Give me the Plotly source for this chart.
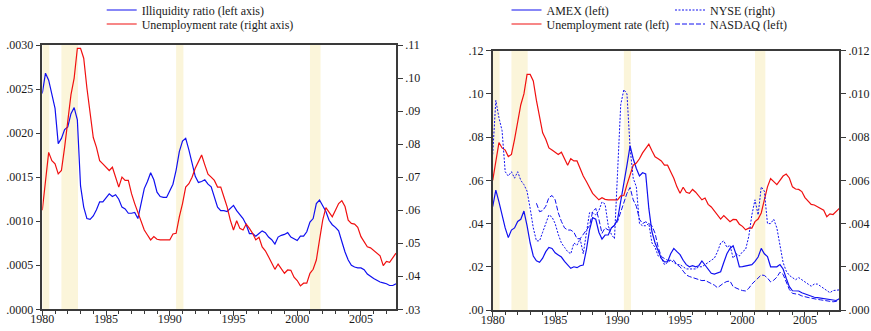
import plotly.graph_objects as go

# ---------------- data (quarterly, 1980Q1 .. 2007Q4) ----------------
START_YEAR = 1980

illiquidity = [
    .00245, .00268, .00260, .00244,  # 1980
    .00228, .00188, .00194, .00204,  # 1981
    .00207, .00222, .00229, .00215,  # 1982
    .00140, .00116, .00103, .00102,  # 1983
    .00106, .00113, .00122, .00122,  # 1984
    .00126, .00131, .00128, .00130,  # 1985
    .00125, .00116, .00114, .00109,  # 1986
    .00109, .00110, .00103, .00119,  # 1987
    .00137, .00145, .00155, .00147,  # 1988
    .00133, .00128, .00127, .00127,  # 1989
    .00135, .00142, .00158, .00179,  # 1990
    .00191, .00194, .00181, .00166,  # 1991
    .00151, .00144, .00145, .00147,  # 1992
    .00142, .00139, .00128, .00116,  # 1993
    .00112, .00112, .00111, .00115,  # 1994
    .00118, .00112, .00107, .00103,  # 1995
    .00096, .00086, .00086, .00083,  # 1996
    .00086, .00089, .00087, .00082,  # 1997
    .00079, .00074, .00082, .00084,  # 1998
    .00085, .00087, .00082, .00080,  # 1999
    .00078, .00083, .00083, .00088,  # 2000
    .00099, .00103, .00120, .00124,  # 2001
    .00118, .00111, .00101, .00096,  # 2002
    .00093, .00089, .00077, .00065,  # 2003
    .00056, .00050, .00048, .00047,  # 2004
    .00047, .00045, .00040, .00037,  # 2005
    .00035, .00033, .00031, .00030,  # 2006
    .00029, .00027, .00027, .00029,  # 2007
]

unemployment = [
    .0600, .0690, .0775, .0750,  # 1980
    .0740, .0710, .0720, .0790,  # 1981
    .0870, .0950, .1000, .1090,  # 1982
    .1090, .1060, .0970, .0900,  # 1983
    .0820, .0790, .0750, .0740,  # 1984
    .0730, .0720, .0730, .0700,  # 1985
    .0670, .0700, .0690, .0690,  # 1986
    .0650, .0620, .0595, .0565,  # 1987
    .0540, .0525, .0510, .0520,  # 1988
    .0512, .0510, .0510, .0510,  # 1989
    .0510, .0528, .0530, .0580,  # 1990
    .0620, .0670, .0680, .0700,  # 1991
    .0727, .0747, .0767, .0737,  # 1992
    .0709, .0700, .0690, .0670,  # 1993
    .0670, .0640, .0610, .0570,  # 1994
    .0540, .0568, .0545, .0540,  # 1995
    .0558, .0545, .0530, .0510,  # 1996
    .0518, .0489, .0477, .0459,  # 1997
    .0441, .0421, .0437, .0424,  # 1998
    .0409, .0419, .0418, .0397,  # 1999
    .0387, .0371, .0379, .0379,  # 2000
    .0409, .0421, .0449, .0510,  # 2001
    .0570, .0608, .0592, .0580,  # 2002
    .0600, .0620, .0629, .0611,  # 2003
    .0570, .0560, .0558, .0548,  # 2004
    .0520, .0505, .0489, .0486,  # 2005
    .0478, .0468, .0462, .0432,  # 2006
    .0445, .0442, .0455, .0470,  # 2007
]

amex = [
    .0478, .0555, .0500, .0440,  # 1980
    .0380, .0335, .0370, .0380,  # 1981
    .0410, .0420, .0458, .0390,  # 1982
    .0310, .0250, .0228, .0221,  # 1983
    .0240, .0270, .0290, .0285,  # 1984
    .0265, .0255, .0245, .0225,  # 1985
    .0210, .0193, .0200, .0196,  # 1986
    .0205, .0208, .0278, .0370,  # 1987
    .0427, .0420, .0360, .0328,  # 1988
    .0347, .0347, .0380, .0393,  # 1989
    .0420, .0500, .0580, .0670,  # 1990
    .0760, .0700, .0655, .0620,  # 1991
    .0635, .0630, .0470, .0362,  # 1992
    .0310, .0270, .0239, .0223,  # 1993
    .0224, .0260, .0285, .0270,  # 1994
    .0256, .0230, .0210, .0200,  # 1995
    .0205, .0200, .0205, .0227,  # 1996
    .0208, .0185, .0170, .0166,  # 1997
    .0170, .0177, .0220, .0260,  # 1998
    .0285, .0297, .0255, .0200,  # 1999
    .0201, .0204, .0206, .0210,  # 2000
    .0225, .0245, .0285, .0260,  # 2001
    .0247, .0200, .0200, .0200,  # 2002
    .0210, .0190, .0147, .0108,  # 2003
    .0089, .0089, .0088, .0080,  # 2004
    .0074, .0069, .0063, .0059,  # 2005
    .0057, .0055, .0052, .0050,  # 2006
    .0047, .0045, .0044, .0052,  # 2007
]

nyse = [
    .0072, .0097, .0089, .0083,  # 1980
    .0064, .0062, .0064, .0061,  # 1981
    .0064, .0060, .0058, .0055,  # 1982
    .0047, .0038, .0032, .0032,  # 1983
    .0036, .0040, .0044, .0043,  # 1984
    .0040, .0035, .0031, .0029,  # 1985
    .0027, .0026, .0031, .0030,  # 1986
    .0033, .0026, .0036, .0045,  # 1987
    .0045, .0044, .0046, .0050,  # 1988
    .0049, .0039, .0035, .0033,  # 1989
    .0064, .0095, .0102, .0100,  # 1990
    .0075, .0061, .0057, .0040,  # 1991
    .0039, .0039, .0040, .0031,  # 1992
    .0029, .0025, .0024, .0021,  # 1993
    .0022, .0023, .0022, .0021,  # 1994
    .0021, .0020, .0019, .0019,  # 1995
    .0019, .0019, .0020, .0020,  # 1996
    .0021, .0022, .0023, .0024,  # 1997
    .0027, .0031, .0032, .0029,  # 1998
    .0030, .0024, .0026, .0025,  # 1999
    .0027, .0028, .0034, .0044,  # 2000
    .0051, .0044, .0057, .0055,  # 2001
    .0040, .0040, .0042, .0038,  # 2002
    .0030, .0022, .0018, .0016,  # 2003
    .0015, .0014, .0015, .0014,  # 2004
    .0013, .0012, .0011, .0012,  # 2005
    .0012, .0011, .0010, .0009,  # 2006
    .0008, .0009, .0009, .00093,  # 2007
]

nasdaq = [
    None, None, None, None,          # 1980
    None, None, None, None,          # 1981
    None, None, None, None,          # 1982
    None, None, .0494, .0455,        # 1983
    .0460, .0480, .0520, .0530,  # 1984
    .0510, .0450, .0410, .0380,  # 1985
    .0370, .0370, .0360, .0330,  # 1986
    .0330, .0350, .0370, .0390,  # 1987
    .0455, .0470, .0420, .0355,  # 1988
    .0380, .0370, .0380, .0390,  # 1989
    .0410, .0455, .0500, .0540,  # 1990
    .0567, .0510, .0480, .0420,  # 1991
    .0400, .0408, .0400, .0390,  # 1992
    .0355, .0290, .0247, .0240,  # 1993
    .0230, .0230, .0230, .0210,  # 1994
    .0200, .0180, .0162, .0155,  # 1995
    .0151, .0145, .0140, .0136,  # 1996
    .0137, .0130, .0123, .0115,  # 1997
    .0103, .0116, .0125, .0132,  # 1998
    .0134, .0108, .0100, .0095,  # 1999
    .0090, .0088, .0100, .0120,  # 2000
    .0134, .0150, .0162, .0160,  # 2001
    .0148, .0130, .0138, .0152,  # 2002
    .0175, .0165, .0130, .0095,  # 2003
    .0077, .0075, .0072, .0065,  # 2004
    .0060, .0058, .0055, .0051,  # 2005
    .0049, .0047, .0045, .0043,  # 2006
    .0041, .0038, .0040, .0045,  # 2007
]

recessions = [(1980.0, 1980.55), (1981.5, 1982.8), (1990.5, 1991.07), (2001.0, 2001.83)]

x_ticks = [1980, 1985, 1990, 1995, 2000, 2005]
left_y1_ticks = [0.0, 0.0005, 0.0010, 0.0015, 0.0020, 0.0025, 0.0030]
left_y2_ticks = [0.03, 0.04, 0.05, 0.06, 0.07, 0.08, 0.09, 0.10, 0.11]
right_y1_ticks = [0.00, 0.02, 0.04, 0.06, 0.08, 0.10, 0.12]
right_y2_ticks = [0.000, 0.002, 0.004, 0.006, 0.008, 0.010, 0.012]

quarters = [START_YEAR + i / 4 for i in range(len(illiquidity))]
for s in (unemployment, amex, nyse, nasdaq):
    assert len(s) == len(quarters)


def lab(vals, nd):
    return [f"{v:.{nd}f}".lstrip("0") if v != 0 else "." + "0" * nd for v in vals]


FONT = "Liberation Serif"
BLUE = "#1010F0"
RED = "#F01010"
AXC = "#3a3a3a"
SHADE = "#FBF5DA"
TXT = "#1a1a1a"

fig = go.Figure()

# ---- left panel ----
fig.add_trace(go.Scatter(x=quarters, y=illiquidity, mode="lines", name="Illiquidity ratio (left axis)",
                         line=dict(color=BLUE, width=1.2), xaxis="x", yaxis="y", legend="legend",
                         showlegend=True))
fig.add_trace(go.Scatter(x=quarters, y=unemployment, mode="lines", name="Unemployment rate (right axis)",
                         line=dict(color=RED, width=1.2), xaxis="x", yaxis="y2", legend="legend2",
                         showlegend=True))

# ---- right panel ----
fig.add_trace(go.Scatter(x=quarters, y=amex, mode="lines", name="AMEX (left)",
                         line=dict(color=BLUE, width=1.2), xaxis="x2", yaxis="y3", legend="legend3",
                         showlegend=True))
fig.add_trace(go.Scatter(x=quarters, y=unemployment, mode="lines", name="Unemployment rate (left)",
                         line=dict(color=RED, width=1.2), xaxis="x2", yaxis="y3", legend="legend4",
                         showlegend=True))
fig.add_trace(go.Scatter(x=quarters, y=nyse, mode="lines", name="NYSE (right)",
                         line=dict(color=BLUE, width=1, dash="2px,1.5px"), xaxis="x2", yaxis="y4",
                         legend="legend5", showlegend=True))
fig.add_trace(go.Scatter(x=quarters, y=nasdaq, mode="lines", name="NASDAQ (left)",
                         line=dict(color=BLUE, width=1, dash="5px,2px"), xaxis="x2", yaxis="y3",
                         legend="legend6", showlegend=True))

shapes = []
for xr in ("x", "x2"):
    yr = "y domain" if xr == "x" else "y3 domain"
    for a, b in recessions:
        shapes.append(dict(type="rect", xref=xr, yref=yr, x0=a, x1=b, y0=0, y1=1,
                           fillcolor=SHADE, line=dict(width=0), layer="below"))

W, H = 871, 331
def px_x(p):
    return p / W
def px_y(p):
    return 1 - p / H

common_x = dict(range=[1980, 2007.75], tickvals=x_ticks, ticktext=[str(v) for v in x_ticks],
                ticks="outside", ticklen=5, tickwidth=1, tickcolor=AXC,
                minor=dict(dtick=1, tick0=1980, ticks="outside", ticklen=3, tickcolor=AXC),
                showline=True, linecolor=AXC, linewidth=1.5, mirror=True,
                showgrid=False, zeroline=False, fixedrange=True, automargin=False,
                ticklabelstandoff=-7,
                tickfont=dict(family=FONT, size=12, color=TXT))
common_y = dict(ticks="outside", ticklen=5, tickwidth=1, tickcolor=AXC,
                showline=True, linecolor=AXC, linewidth=1.5, automargin=False,
                showgrid=False, zeroline=False,
                tickfont=dict(family=FONT, size=12, color=TXT))

def legend_at(xpx, ypx):
    return dict(x=px_x(xpx), y=px_y(ypx), xanchor="left", yanchor="middle",
                bgcolor="rgba(0,0,0,0)", borderwidth=0, visible=True,
                font=dict(family=FONT, size=12, color=TXT))

fig.update_layout(
    width=W, height=H,
    margin=dict(l=0, r=0, t=0, b=0, pad=0, autoexpand=False),
    paper_bgcolor="white", plot_bgcolor="white",
    showlegend=True,
    font=dict(family=FONT, size=12, color=TXT),
    shapes=shapes,
    xaxis=dict(domain=[px_x(42.3), px_x(396)], anchor="y", **common_x),
    yaxis=dict(domain=[px_y(309.3), px_y(45)], anchor="x", range=[0, 0.003],
               tickvals=left_y1_ticks, ticktext=lab(left_y1_ticks, 4), **common_y),
    yaxis2=dict(overlaying="y", side="right", anchor="x", range=[0.03, 0.11],
                tickvals=left_y2_ticks, ticktext=lab(left_y2_ticks, 2), **common_y),
    xaxis2=dict(domain=[px_x(492.7), px_x(839.3)], anchor="y3", **common_x),
    yaxis3=dict(domain=[px_y(310), px_y(50.7)], anchor="x2", range=[0, 0.12],
                tickvals=right_y1_ticks, ticktext=lab(right_y1_ticks, 2), **common_y),
    yaxis4=dict(overlaying="y3", side="right", anchor="x2", range=[0, 0.012],
                tickvals=right_y2_ticks, ticktext=lab(right_y2_ticks, 3), **common_y),
    legend=legend_at(101.7, 10),
    legend2=legend_at(101.7, 24),
    legend3=legend_at(506.5, 10),
    legend4=legend_at(506.5, 24),
    legend5=legend_at(670, 10),
    legend6=legend_at(670, 24),
)

fig.write_html("out.html")
